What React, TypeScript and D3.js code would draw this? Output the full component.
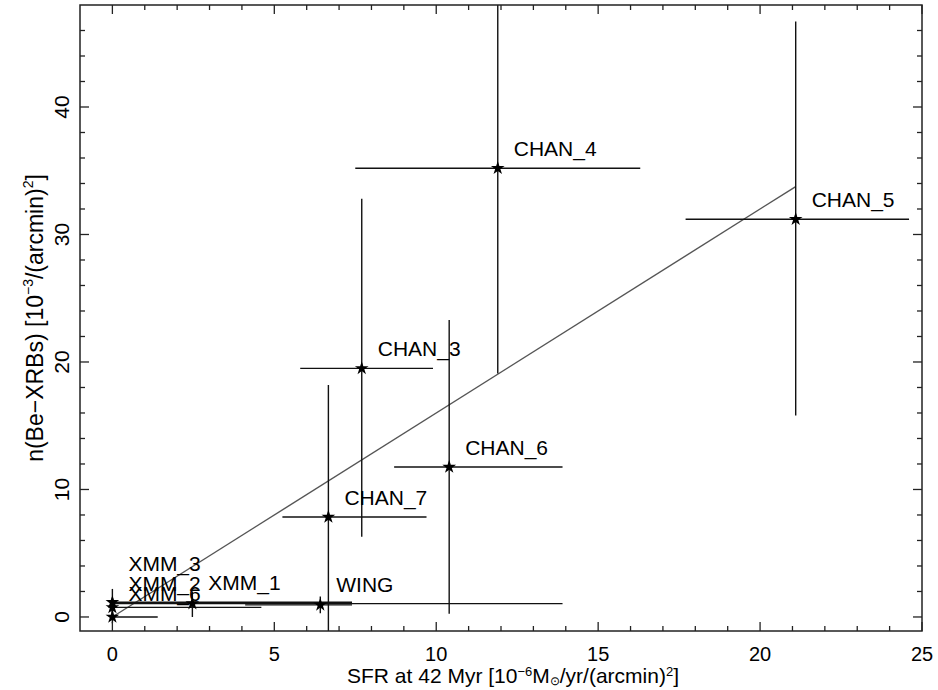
import React, { useEffect, useRef } from "react";
import * as d3 from "d3";

// ---- data ----
const names = ["XMM_3", "XMM_2", "XMM_6", "XMM_1", "WING", "CHAN_7", "CHAN_3", "CHAN_6", "CHAN_4", "CHAN_5"];
const sfr = [0, 0, 0, 2.47, 6.42, 6.67, 7.7, 10.4, 11.9, 21.1];
const nXrb = [1.15, 0.75, 0, 1.05, 0.95, 7.84, 19.5, 11.76, 35.2, 31.2];
const sfrLo = [0, 0, 0, 0, 4.1, 5.25, 5.8, 8.7, 7.5, 17.7];
const sfrHi = [7.4, 4.6, 1.4, 13.9, 7.4, 9.7, 9.9, 13.9, 16.3, 24.6];
const nLo = [0.2, 0.0, -0.5, 0.0, 0.3, -3, 6.3, 0.25, 19.1, 15.8];
const nHi = [2.2, 1.5, 0.5, 2.0, 1.6, 18.2, 32.8, 23.3, 55, 46.7];
const labelDy = [-39, -24, -23, -21, -20, -20, -20, -20, -20, -20];

const fitX = [0, 21.1];
const fitY = [0, 33.76];

const xMajor = [0, 5, 10, 15, 20, 25];
const yMajor = [0, 10, 20, 30, 40];

const W = 938;
const H = 690;
const L = 80, R = 922, T = 5, B = 631;

export default function App() {
  const ref = useRef<SVGSVGElement>(null);
  useEffect(() => {
    const svg = d3.select(ref.current);
    svg.selectAll("*").remove();
    const x = d3.scaleLinear().domain([-1, 25]).range([L, R]);
    const y = d3.scaleLinear().domain([-1.1, 48]).range([B, T]);
    const font = "'Liberation Sans', Arial, Helvetica, sans-serif";

    svg.append("rect").attr("width", W).attr("height", H).attr("fill", "#fff");

    svg.append("defs").append("clipPath").attr("id", "clip")
      .append("rect").attr("x", L).attr("y", T).attr("width", R - L).attr("height", B - T);

    const g = svg.append("g").attr("clip-path", "url(#clip)");

    // fit line
    const line = d3.line<number>().x((d, i) => x(fitX[i])).y((d, i) => y(fitY[i]));
    g.append("path").attr("d", line(fitX)).attr("fill", "none")
      .attr("stroke", "#555").attr("stroke-width", 1.4);

    // error bars
    names.forEach((n, i) => {
      g.append("line").attr("x1", x(sfrLo[i])).attr("x2", x(sfrHi[i]))
        .attr("y1", y(nXrb[i])).attr("y2", y(nXrb[i]))
        .attr("stroke", "#111").attr("stroke-width", 1.4);
      g.append("line").attr("x1", x(sfr[i])).attr("x2", x(sfr[i]))
        .attr("y1", y(nLo[i])).attr("y2", y(nHi[i]))
        .attr("stroke", "#111").attr("stroke-width", 1.4);
    });

    // stars
    const star = d3.symbol().type(d3.symbolStar).size(58);
    names.forEach((n, i) => {
      g.append("path").attr("d", star()).attr("transform", `translate(${x(sfr[i])},${y(nXrb[i])})`)
        .attr("fill", "#000");
    });

    // labels
    names.forEach((n, i) => {
      svg.append("text").attr("x", x(sfr[i]) + 16).attr("y", y(nXrb[i]) + labelDy[i])
        .attr("dominant-baseline", "central")
        .attr("font-family", font).attr("font-size", 21).attr("fill", "#000").text(n);
    });

    // frame
    svg.append("rect").attr("x", L).attr("y", T).attr("width", R - L).attr("height", B - T)
      .attr("fill", "none").attr("stroke", "#222").attr("stroke-width", 1.5);

    // ticks
    const ax = svg.append("g").attr("stroke", "#222").attr("stroke-width", 1.3);
    d3.range(0, 26, 1).forEach((v) => {
      const len = xMajor.includes(v) ? 9 : 5;
      ax.append("line").attr("x1", x(v)).attr("x2", x(v)).attr("y1", B).attr("y2", B - len);
      ax.append("line").attr("x1", x(v)).attr("x2", x(v)).attr("y1", T).attr("y2", T + len);
    });
    d3.range(0, 48, 2).forEach((v) => {
      const len = yMajor.includes(v) ? 9 : 5;
      ax.append("line").attr("y1", y(v)).attr("y2", y(v)).attr("x1", L).attr("x2", L + len);
      ax.append("line").attr("y1", y(v)).attr("y2", y(v)).attr("x1", R).attr("x2", R - len);
    });

    // tick labels
    xMajor.forEach((v) => {
      svg.append("text").attr("x", x(v)).attr("y", 661).attr("text-anchor", "middle")
        .attr("font-family", font).attr("font-size", 20).text(String(v));
    });
    yMajor.forEach((v) => {
      svg.append("text").attr("transform", `translate(61,${y(v)}) rotate(-90)`)
        .attr("text-anchor", "middle").attr("dominant-baseline", "central")
        .attr("font-family", font).attr("font-size", 21).text(String(v));
    });

    // axis titles
    const xt = svg.append("text").attr("x", (L + R) / 2 + 12).attr("y", 683)
      .attr("text-anchor", "middle")
      .attr("font-family", font).attr("font-size", 21);
    xt.append("tspan").text("SFR at 42 Myr [10");
    xt.append("tspan").attr("font-size", 13).attr("dy", -7).text("−6");
    xt.append("tspan").attr("dy", 7).text("M");
    xt.append("tspan").attr("font-size", 12).attr("dy", 2).text("⊙");
    xt.append("tspan").attr("dy", -2).text("/yr/(arcmin)");
    xt.append("tspan").attr("font-size", 13).attr("dy", -7).text("2");
    xt.append("tspan").attr("dy", 7).text("]");

    const yt = svg.append("text").attr("transform", `translate(35,${(T + B) / 2}) rotate(-90)`)
      .attr("text-anchor", "middle").attr("dominant-baseline", "central")
      .attr("font-family", font).attr("font-size", 23);
    yt.append("tspan").text("n(Be−XRBs) [10");
    yt.append("tspan").attr("font-size", 14).attr("dy", -7).text("−3");
    yt.append("tspan").attr("dy", 7).text("/(arcmin)");
    yt.append("tspan").attr("font-size", 14).attr("dy", -7).text("2");
    yt.append("tspan").attr("dy", 7).text("]");
  }, []);
  return (
    <svg ref={ref} width={W} height={H}
      style={{ position: "absolute", left: 0, top: 0, display: "block" }} />
  );
}
